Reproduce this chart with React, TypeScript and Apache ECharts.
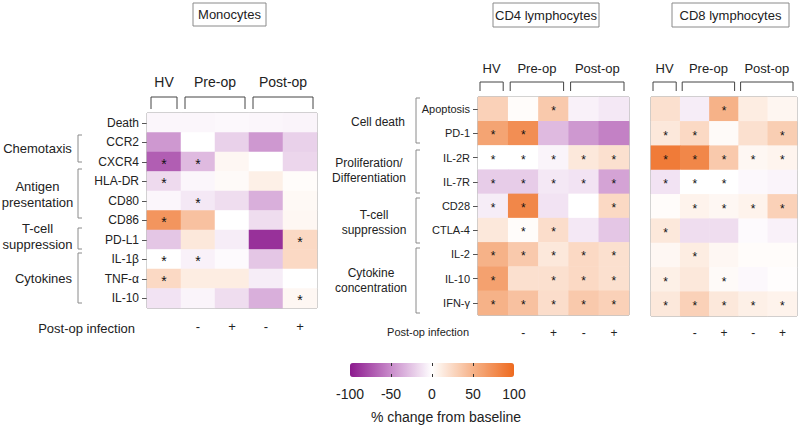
import React, { useEffect, useRef } from "react";
import * as echarts from "echarts";

// ---------- DATA ----------
const cols = ["HV", "Pre-op -", "Pre-op +", "Post-op -", "Post-op +"];
const colSigns = ["", "-", "+", "-", "+"];
const colGroups = ["HV", "Pre-op", "Post-op"];

const monoRows = ["Death", "CCR2", "CXCR4", "HLA-DR", "CD80", "CD86", "PD-L1", "IL-1β", "TNF-α", "IL-10"];
const monoValues = [
  [-4, -4, -3, -4, -5],
  [-45, 0, -20, -45, -20],
  [-70, -30, 5, 0, -18],
  [-16, -4, 3, 10, 2],
  [-4, -10, -15, -35, 4],
  [70, 40, 0, -15, 5],
  [-25, 15, -8, -90, 25],
  [0, -6, -2, -25, 25],
  [25, 12, 12, -8, 0],
  [-12, -5, -15, -35, 5],
];
const monoSig = [
  [0, 0, 0, 0, 0],
  [0, 0, 0, 0, 0],
  [1, 1, 0, 0, 0],
  [1, 0, 0, 0, 0],
  [0, 1, 0, 0, 0],
  [1, 0, 0, 0, 0],
  [0, 0, 0, 0, 1],
  [1, 1, 0, 0, 0],
  [1, 0, 0, 0, 0],
  [0, 0, 0, 0, 1],
];

const lymphRows = ["Apoptosis", "PD-1", "IL-2R", "IL-7R", "CD28", "CTLA-4", "IL-2", "IL-10", "IFN-γ"];
const cd4Values = [
  [30, 2, 35, -6, -10],
  [60, 75, -30, -45, -55],
  [0, 0, -5, 15, 20],
  [-22, -22, -10, -12, -40],
  [-8, 80, -12, 0, 25],
  [15, 2, 22, -10, -25],
  [50, 35, 15, 25, 20],
  [62, 20, 20, 25, 20],
  [50, 40, 22, 35, 30],
];
const cd4Sig = [
  [0, 0, 1, 0, 0],
  [1, 1, 0, 0, 0],
  [1, 1, 1, 1, 1],
  [1, 1, 1, 1, 1],
  [1, 1, 0, 0, 1],
  [0, 1, 1, 0, 0],
  [1, 1, 1, 1, 1],
  [1, 0, 1, 1, 1],
  [1, 1, 1, 1, 1],
];
const cd8Values = [
  [20, -8, 50, 12, 6],
  [15, 25, 3, 20, 32],
  [88, 80, 35, 5, 7],
  [-12, 0, 0, -3, -5],
  [2, 8, 5, 8, 30],
  [15, -15, -15, -2, -6],
  [5, 12, 5, 2, 2],
  [10, 15, 3, -3, 1],
  [15, 30, 15, 10, 8],
];
const cd8Sig = [
  [0, 0, 1, 0, 0],
  [1, 1, 0, 0, 1],
  [1, 1, 1, 1, 1],
  [1, 1, 1, 0, 0],
  [0, 1, 1, 1, 1],
  [1, 0, 0, 0, 0],
  [0, 1, 0, 0, 0],
  [1, 0, 1, 0, 0],
  [1, 1, 1, 1, 1],
];

const colorTicks = [-100, -50, 0, 50, 100];
const colorTickMarks = [-50, 0, 50];
const colorStops = ["#8c1a8e", "#c98ccb", "#ffffff", "#f6b288", "#ee6a1f"];

// ---------- LAYOUT ----------
const FONT = "'Liberation Sans', Arial, Helvetica, sans-serif";
const TXT = "#222";
const LINE = "#8a8a8a";

const panels = [
  { title: "Monocytes", left: 147, top: 113, width: 170, height: 195, rows: monoRows, values: monoValues, sig: monoSig,
    rowFont: 12, starFont: 14, signFont: 13, signMargin: 12, showRows: true,
    headY: 82, brTop: 97, brBot: 109, brIn: [4, 4], headFont: 14,
    box: { x: 193, y: 3, w: 73, h: 23 } },
  { title: "CD4 lymphocytes", left: 478, top: 97, width: 151, height: 218, rows: lymphRows, values: cd4Values, sig: cd4Sig,
    rowFont: 11, starFont: 12, signFont: 12, signMargin: 12, showRows: true,
    headY: 68, brTop: 82, brBot: 91, brIn: [2, 5], headFont: 13,
    box: { x: 493, y: 3, w: 106, h: 24 } },
  { title: "CD8 lymphocytes", left: 651, top: 97, width: 146, height: 219, rows: lymphRows, values: cd8Values, sig: cd8Sig,
    rowFont: 11, starFont: 12, signFont: 12, signMargin: 11, showRows: false,
    headY: 68, brTop: 82, brBot: 91, brIn: [2, 4], headFont: 13,
    box: { x: 672, y: 3, w: 117, h: 24 } },
];

const groupSpans = [[0, 1], [1, 3], [3, 5]];

const monoGroups = [
  { text: "Chemotaxis", x: 37.5, y: 148, y1: 135, y2: 162 },
  { text: "Antigen\npresentation", x: 37.5, y: 194, y1: 169, y2: 218 },
  { text: "T-cell\nsuppression", x: 37.5, y: 236, y1: 228, y2: 249 },
  { text: "Cytokines", x: 43.5, y: 278, y1: 253, y2: 303 },
];
const cd4Groups = [
  { text: "Cell death", x: 378, y: 122, y1: 98, y2: 143 },
  { text: "Proliferation/\nDifferentiation", x: 369, y: 170, y1: 150, y2: 193 },
  { text: "T-cell\nsuppression", x: 374, y: 222, y1: 198, y2: 243 },
  { text: "Cytokine\nconcentration", x: 371, y: 280, y1: 248, y2: 313 },
];

export default function App() {
  const ref = useRef<HTMLDivElement>(null);

  useEffect(() => {
    if (!ref.current) return;
    const chart = echarts.init(ref.current, null, { renderer: "svg" });

    const grids: any[] = [];
    const xAxes: any[] = [];
    const yAxes: any[] = [];
    const series: any[] = [];
    const graphics: any[] = [];

    panels.forEach((p, i) => {
      grids.push({
        left: p.left, top: p.top, width: p.width, height: p.height,
        show: true, borderColor: LINE, borderWidth: 1, backgroundColor: "transparent", z: 0,
      });
      xAxes.push({
        type: "category", gridIndex: i, data: cols, position: "bottom",
        axisLine: { show: false }, axisTick: { show: false }, splitLine: { show: false },
        axisLabel: {
          formatter: (_v: string, idx: number) => colSigns[idx],
          fontSize: p.signFont, color: TXT, fontFamily: FONT, margin: p.signMargin,
        },
      });
      yAxes.push({
        type: "category", gridIndex: i, data: p.rows, inverse: true,
        axisLine: { show: false },
        axisTick: { show: p.showRows, length: 5, alignWithLabel: true, lineStyle: { color: "#555" } },
        splitLine: { show: false },
        axisLabel: { show: p.showRows, fontSize: p.rowFont, color: TXT, fontFamily: FONT, margin: 8 },
      });
      const data: any[] = [];
      p.values.forEach((row, r) => row.forEach((v, c) => data.push([c, r, v, p.sig[r][c]])));
      series.push({
        type: "heatmap", xAxisIndex: i, yAxisIndex: i, data,
        itemStyle: { borderWidth: 0 },
        emphasis: { disabled: true },
        label: {
          show: true, color: "#111", fontSize: p.starFont, fontFamily: FONT, offset: [0, 2],
          formatter: (prm: any) => (prm.value[3] ? "*" : ""),
        },
      });

      // title box
      graphics.push({
        type: "rect", shape: { x: p.box.x, y: p.box.y, width: p.box.w, height: p.box.h },
        style: { fill: "#fff", stroke: LINE, lineWidth: 1 },
      });
      graphics.push({
        type: "text", x: p.box.x + p.box.w / 2, y: p.box.y + p.box.h / 2,
        style: { text: p.title, fontSize: 13, fontFamily: FONT, fill: TXT, align: "center", verticalAlign: "middle" },
      });

      // column group headers and brackets
      const cw = p.width / cols.length;
      groupSpans.forEach(([a, b], g) => {
        const x1 = p.left + a * cw + p.brIn[0];
        const x2 = p.left + b * cw - p.brIn[1];
        graphics.push({
          type: "polyline",
          shape: { points: [[x1, p.brBot], [x1, p.brTop], [x2, p.brTop], [x2, p.brBot]] },
          style: { stroke: "#444", lineWidth: 1, fill: null },
        });
        graphics.push({
          type: "text", x: (x1 + x2) / 2, y: p.headY,
          style: { text: colGroups[g], fontSize: p.headFont, fontFamily: FONT, fill: TXT, align: "center", verticalAlign: "middle" },
        });
      });
    });

    const addRowGroups = (groups: any[], bx: number, fontSize: number, lh: number) => {
      groups.forEach((g) => {
        graphics.push({
          type: "polyline",
          shape: { points: [[bx + 4, g.y1], [bx, g.y1], [bx, g.y2], [bx + 4, g.y2]] },
          style: { stroke: LINE, lineWidth: 1, fill: null },
        });
        graphics.push({
          type: "text", x: g.x, y: g.y,
          style: { text: g.text, fontSize, lineHeight: lh, fontFamily: FONT, fill: TXT, align: "center", verticalAlign: "middle" },
        });
      });
    };
    addRowGroups(monoGroups, 78, 13, 16);
    addRowGroups(cd4Groups, 416, 12, 15);

    graphics.push({
      type: "text", x: 135, y: 328,
      style: { text: "Post-op infection", fontSize: 13, fontFamily: FONT, fill: TXT, align: "right", verticalAlign: "middle" },
    });
    graphics.push({
      type: "text", x: 469, y: 332,
      style: { text: "Post-op infection", fontSize: 11, fontFamily: FONT, fill: TXT, align: "right", verticalAlign: "middle" },
    });
    graphics.push({
      type: "text", x: 446, y: 417,
      style: { text: "% change from baseline", fontSize: 14, fontFamily: FONT, fill: TXT, align: "center", verticalAlign: "middle" },
    });

    // colour bar axis grid
    const cb = { left: 350, top: 363, width: 164, height: 14 };
    grids.push({ ...cb, show: false });
    xAxes.push({
      type: "value", gridIndex: 3, min: colorTicks[0], max: colorTicks[colorTicks.length - 1], interval: 50,
      position: "bottom",
      axisLine: { show: false }, splitLine: { show: false },
      axisTick: { show: true, inside: true, length: 3, customValues: colorTickMarks, lineStyle: { color: "#333" } },
      axisLabel: { fontSize: 14, color: TXT, fontFamily: FONT, margin: 10, customValues: colorTicks },
      z: 10,
    });
    xAxes.push({
      type: "value", gridIndex: 3, min: colorTicks[0], max: colorTicks[colorTicks.length - 1], interval: 50,
      position: "top",
      axisLine: { show: false }, splitLine: { show: false },
      axisTick: { show: true, inside: true, length: 3, customValues: colorTickMarks, lineStyle: { color: "#333" } },
      axisLabel: { show: false },
      z: 10,
    });
    yAxes.push({ type: "value", gridIndex: 3, show: false, min: 0, max: 1 });
    series.push({ type: "scatter", xAxisIndex: 3, yAxisIndex: 3, data: [], silent: true });

    chart.setOption({
      animation: false,
      grid: grids,
      xAxis: xAxes,
      yAxis: yAxes,
      visualMap: {
        type: "continuous", min: -100, max: 100, seriesIndex: [0, 1, 2], dimension: 2,
        orient: "horizontal", left: cb.left, top: cb.top, itemWidth: cb.height, itemHeight: cb.width,
        calculable: false, padding: 0, text: null, showLabel: false, hoverLink: false,
        inRange: { color: colorStops },
      },
      series,
      graphic: { elements: graphics },
    });

    return () => chart.dispose();
  }, []);

  return <div ref={ref} style={{ position: "absolute", left: 0, top: 0, width: 799, height: 427 }} />;
}
